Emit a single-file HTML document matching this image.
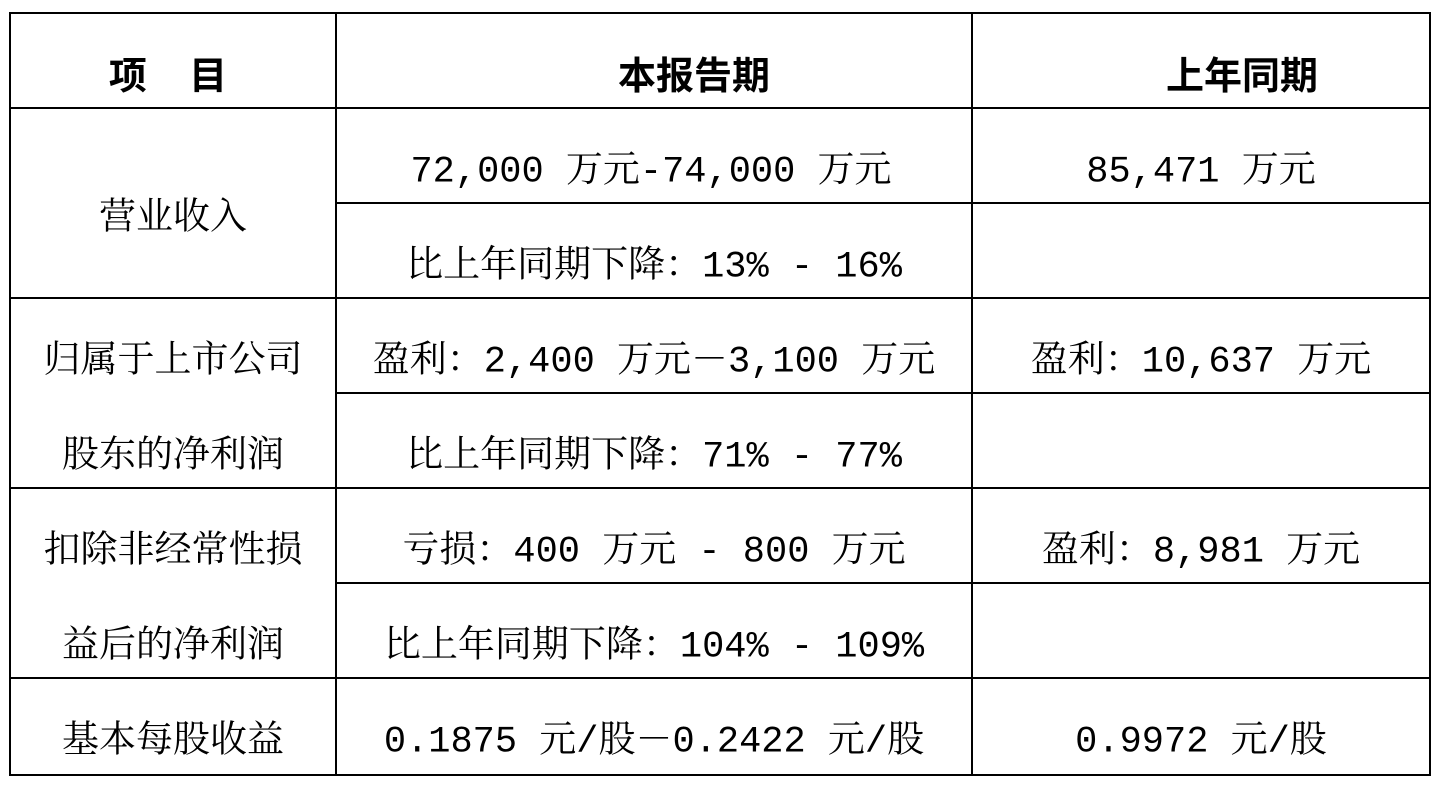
<!DOCTYPE html>
<html><head><meta charset="utf-8"><style>
body{margin:0;width:1437px;height:785px;background:#fff;position:relative;overflow:hidden;font-family:"Liberation Mono","Noto Serif CJK SC",serif;color:#000}
.h{position:absolute;height:2px;background:#000;left:10px;width:1421px}
.v{position:absolute;width:2px;background:#000;top:12px;height:764px}
.t{position:absolute;transform:translate(-50%,-50%);white-space:nowrap;font-size:37px;line-height:1}
.b{font-family:"Liberation Sans","Noto Sans CJK SC",sans-serif;font-weight:bold;font-size:38px}
</style></head><body>
<div class="h" style="top:12px"></div>
<div class="h" style="top:107px"></div>
<div class="h" style="top:202px;left:336px;width:1095px"></div>
<div class="h" style="top:297px"></div>
<div class="h" style="top:392px;left:336px;width:1095px"></div>
<div class="h" style="top:487px"></div>
<div class="h" style="top:582px;left:336px;width:1095px"></div>
<div class="h" style="top:677px"></div>
<div class="h" style="top:774px"></div>
<div class="v" style="left:9px"></div>
<div class="v" style="left:335px"></div>
<div class="v" style="left:971px"></div>
<div class="v" style="left:1429px"></div>

<div class="t b" style="left:168px;top:77px">项&nbsp;&nbsp;&nbsp;&nbsp;目</div>
<div class="t b" style="left:694px;top:77px">本报告期</div>
<div class="t b" style="left:1242px;top:77px">上年同期</div>

<div class="t" style="left:173px;top:220px">营业收入</div>
<div class="t" style="left:651px;top:173px">72,000 万元-74,000 万元</div>
<div class="t" style="left:1201px;top:173px">85,471 万元</div>
<div class="t" style="left:654px;top:268px">比上年同期下降：13% - 16%</div>

<div class="t" style="left:173px;top:363px">归属于上市公司</div>
<div class="t" style="left:173px;top:458px">股东的净利润</div>
<div class="t" style="left:654px;top:363px">盈利：2,400 万元－3,100 万元</div>
<div class="t" style="left:1201px;top:363px">盈利：10,637 万元</div>
<div class="t" style="left:654px;top:458px">比上年同期下降：71% - 77%</div>

<div class="t" style="left:173px;top:553px">扣除非经常性损</div>
<div class="t" style="left:173px;top:648px">益后的净利润</div>
<div class="t" style="left:654px;top:553px">亏损：400 万元 - 800 万元</div>
<div class="t" style="left:1201px;top:553px">盈利：8,981 万元</div>
<div class="t" style="left:654px;top:648px">比上年同期下降：104% - 109%</div>

<div class="t" style="left:173px;top:743px">基本每股收益</div>
<div class="t" style="left:654px;top:743px">0.1875 元/股－0.2422 元/股</div>
<div class="t" style="left:1201px;top:743px">0.9972 元/股</div>
</body></html>
